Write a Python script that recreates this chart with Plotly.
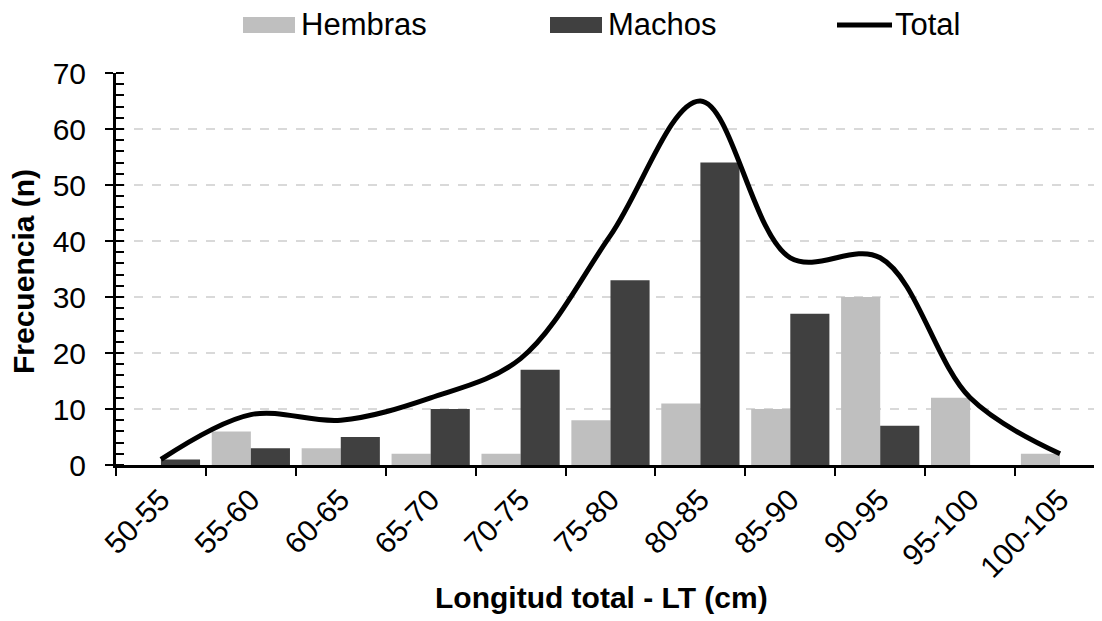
import plotly.graph_objects as go

categories = ["50-55", "55-60", "60-65", "65-70", "70-75", "75-80",
              "80-85", "85-90", "90-95", "95-100", "100-105"]
hembras = [0, 6, 3, 2, 2, 8, 11, 10, 30, 12, 2]
machos = [1, 3, 5, 10, 17, 33, 54, 27, 7, 0, 0]
total = [1, 9, 8, 12, 19, 41, 65, 37, 37, 12, 2]

legend_names = ["Hembras", "Machos", "Total"]
colors = ["#bfbfbf", "#404040", "#000000"]

FONT = "Liberation Sans, Arial, sans-serif"
OFF = 8  # page body margin
W, H = 1102 - OFF, 621 - OFF
L, R, T, B = 108, 0, 65, 156
PW, PH = W - L - R, H - T - B


def px_x(p):
    return (p - OFF - L) / PW


def px_y(p):
    return (H - B - (p - OFF)) / PH


fig = go.Figure()
fig.add_trace(go.Bar(name=legend_names[0], x=categories, y=hembras,
                     marker=dict(color=colors[0], line=dict(width=0))))
fig.add_trace(go.Bar(name=legend_names[1], x=categories, y=machos,
                     marker=dict(color=colors[1], line=dict(width=0))))
fig.add_trace(go.Scatter(name=legend_names[2], x=categories, y=total, mode="lines",
                         line=dict(color=colors[2], width=5, shape="spline", smoothing=1.0)))
# invisible helper trace so the overlay axis (inner half of major ticks) is drawn
fig.add_trace(go.Scatter(x=[categories[0]], y=[0], yaxis="y2", mode="markers",
                         marker=dict(opacity=0), showlegend=False, hoverinfo="skip"))

# custom legend (wide patches like the original)
shapes = [
    dict(type="rect", xref="paper", yref="paper", x0=px_x(243), x1=px_x(295),
         y0=px_y(33), y1=px_y(17), fillcolor=colors[0], line=dict(width=0)),
    dict(type="rect", xref="paper", yref="paper", x0=px_x(550), x1=px_x(602),
         y0=px_y(33), y1=px_y(17), fillcolor=colors[1], line=dict(width=0)),
    dict(type="line", xref="paper", yref="paper", x0=px_x(837), x1=px_x(892),
         y0=px_y(25), y1=px_y(25), line=dict(color=colors[2], width=5)),
]
annotations = [
    dict(text=legend_names[0], x=px_x(299), y=px_y(24)),
    dict(text=legend_names[1], x=px_x(606), y=px_y(24)),
    dict(text=legend_names[2], x=px_x(893), y=px_y(24)),
]
for a in annotations:
    a.update(xref="paper", yref="paper", xanchor="left", yanchor="middle",
             showarrow=False, font=dict(size=31, family=FONT, color="black"))

annotations.append(dict(text="<b>Longitud total - LT (cm)</b>", xref="paper", yref="paper",
                        x=px_x(601), y=px_y(597), xanchor="center", yanchor="middle",
                        showarrow=False, font=dict(size=30, family=FONT, color="black")))
annotations.append(dict(text="<b>Frecuencia (n)</b>", xref="paper", yref="paper",
                        x=px_x(23), y=px_y(272), xanchor="center", yanchor="middle",
                        textangle=-90, showarrow=False,
                        font=dict(size=30, family=FONT, color="black")))

fig.update_layout(
    width=W, height=H,
    margin=dict(l=L, r=R, t=T, b=B, autoexpand=False),
    plot_bgcolor="white", paper_bgcolor="white",
    barmode="group", bargap=0.13, bargroupgap=0,
    font=dict(family=FONT, size=30, color="black"),
    showlegend=False,
    shapes=shapes,
    annotations=annotations,
    xaxis=dict(
        type="category", range=[-0.5, 10.467],
        showline=True, linecolor="black", linewidth=3,
        ticks="outside", ticklen=8, tickwidth=2, tickcolor="black",
        tickson="boundaries", tickangle=-45, ticklabelstandoff=2,
        tickfont=dict(size=30),
        showgrid=False, automargin=False,
    ),
    yaxis=dict(
        range=[0, 70], dtick=10,
        showline=True, linecolor="black", linewidth=3,
        ticks="outside", ticklen=8, tickwidth=2, tickcolor="black",
        ticklabelstandoff=13,
        tickfont=dict(size=30),
        minor=dict(dtick=2, ticks="inside", ticklen=8, tickwidth=2, tickcolor="black",
                   showgrid=False),
        showgrid=True, gridcolor="#d9d9d9", griddash="dash", gridwidth=2,
        zeroline=False, automargin=False,
    ),
    yaxis2=dict(
        range=[0, 70], dtick=10, overlaying="y", side="left",
        showline=False, ticks="inside", ticklen=8, tickwidth=2, tickcolor="black",
        showticklabels=False, showgrid=False, zeroline=False,
    ),
)

fig.write_html("out.html")
